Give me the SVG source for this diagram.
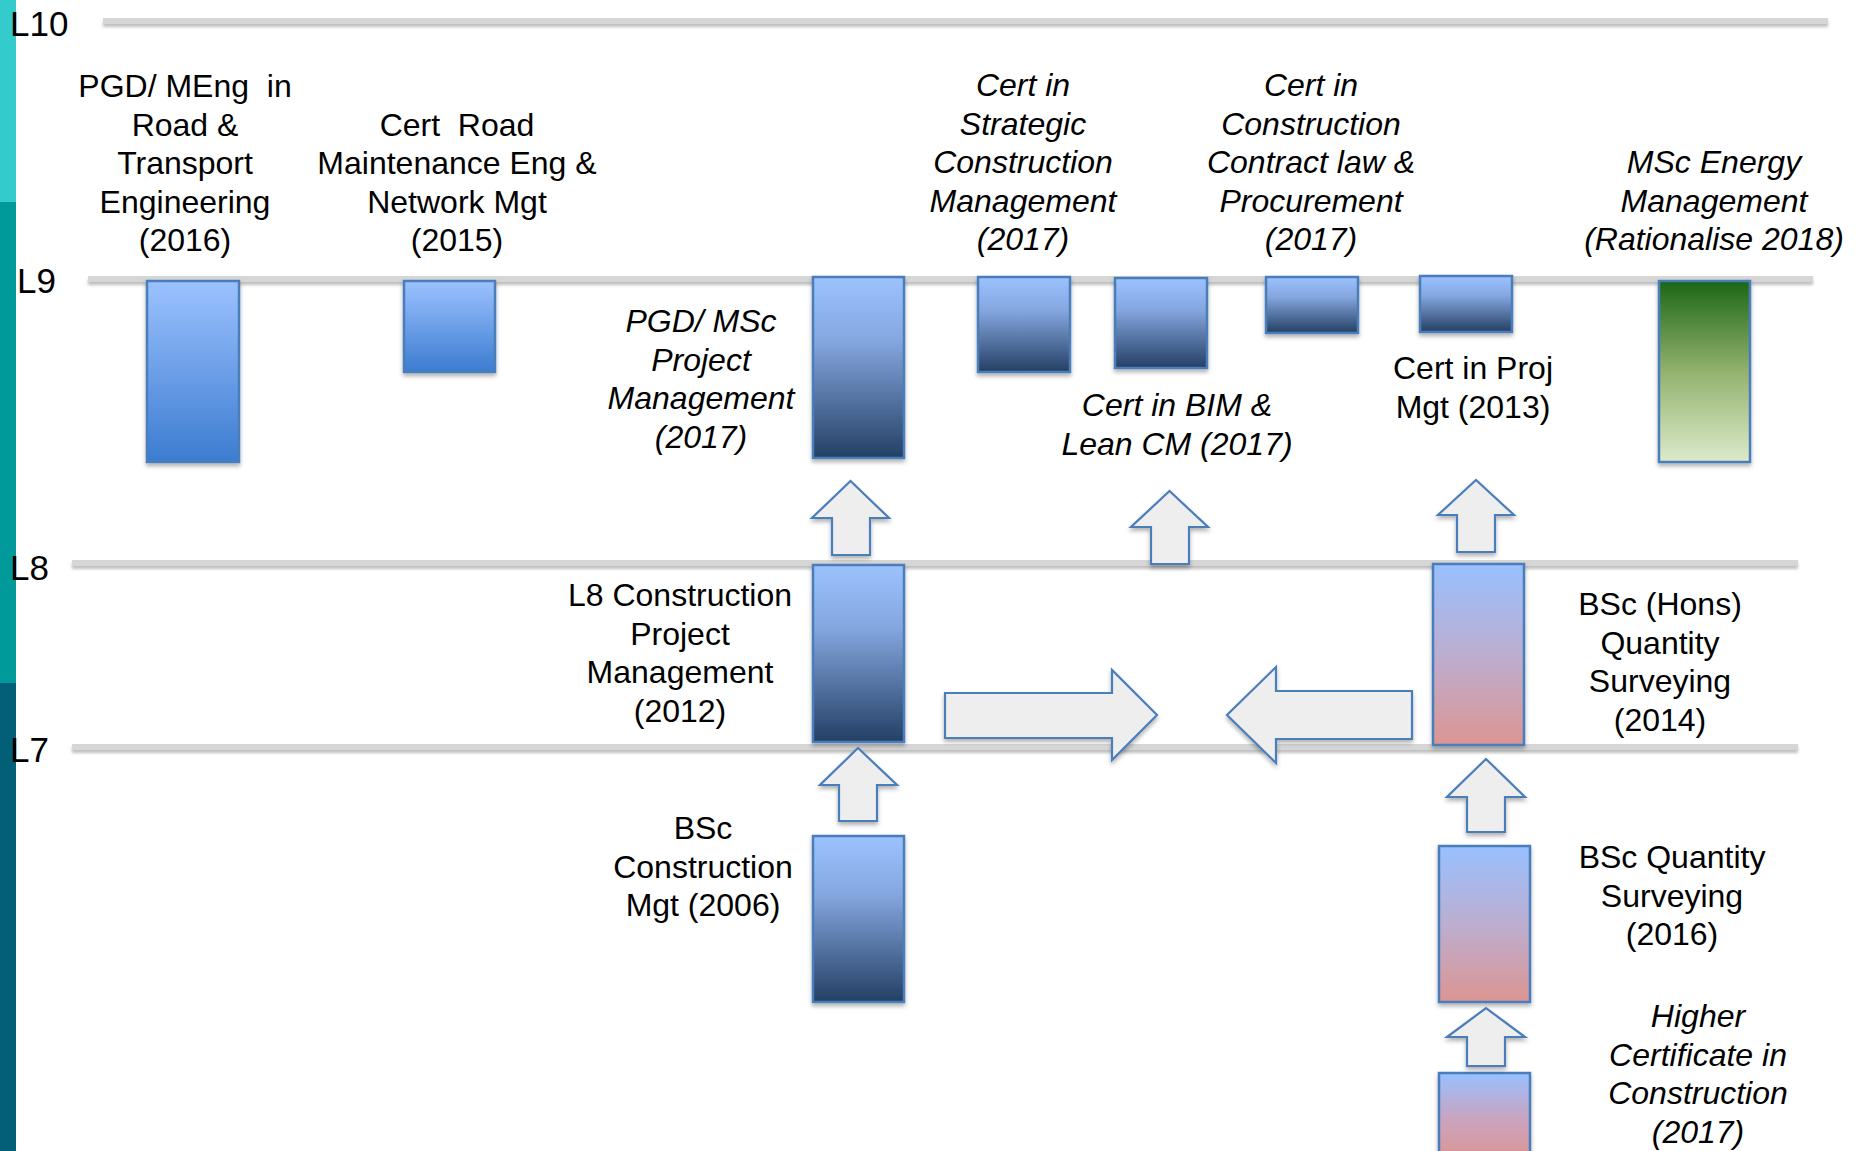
<svg xmlns="http://www.w3.org/2000/svg" width="1860" height="1151" viewBox="0 0 1860 1151">
<style>
.t{font-family:"Liberation Sans",Arial,sans-serif;font-size:32px;fill:#000;text-anchor:middle}
.i{font-style:italic}
.lv{font-family:"Liberation Sans",Arial,sans-serif;font-size:35px;fill:#000}
.lvl{fill:#d6d6d6;filter:url(#shl)}
.bar{stroke:#4a7ebb;stroke-width:2.5;filter:url(#sh)}
.arr{fill:#eeeeee;stroke:#4a7ebb;stroke-width:2.2;stroke-linejoin:miter;filter:url(#sh)}
</style>
<defs>
<filter id="sh" x="-20%" y="-20%" width="140%" height="160%">
<feDropShadow dx="0" dy="3" stdDeviation="2" flood-color="#000" flood-opacity="0.3"/>
</filter>
<filter id="shl" x="-2%" y="-100%" width="104%" height="400%">
<feDropShadow dx="0" dy="3" stdDeviation="1.5" flood-color="#000" flood-opacity="0.25"/>
</filter>
<linearGradient id="gLight" x1="0" y1="0" x2="0" y2="1">
<stop offset="0" stop-color="#9cc2ff"/><stop offset="1" stop-color="#3c7cd0"/>
</linearGradient>
<linearGradient id="gDark" x1="0" y1="0" x2="0" y2="1">
<stop offset="0" stop-color="#9cc2ff"/><stop offset="0.35" stop-color="#85a7e0"/><stop offset="1" stop-color="#243f64"/>
</linearGradient>
<linearGradient id="gPink" x1="0" y1="0" x2="0" y2="1">
<stop offset="0" stop-color="#98c0ff"/><stop offset="0.5" stop-color="#bcaed0"/><stop offset="1" stop-color="#dc9592"/>
</linearGradient>
<linearGradient id="gPink2" x1="0" y1="1073" x2="0" y2="1160" gradientUnits="userSpaceOnUse">
<stop offset="0" stop-color="#98c0ff"/><stop offset="0.55" stop-color="#cba3bd"/><stop offset="1" stop-color="#dc9592"/>
</linearGradient>
<linearGradient id="gGreen" x1="0" y1="0" x2="0" y2="1">
<stop offset="0" stop-color="#1b6616"/><stop offset="0.5" stop-color="#93b26e"/><stop offset="1" stop-color="#dcebcb"/>
</linearGradient>
</defs>

<rect width="1860" height="1151" fill="#ffffff"/>

<g id="sidebar">
<rect x="0" y="0" width="16" height="202" fill="#33cbcb"/>
<rect x="0" y="202" width="16" height="481" fill="#009a9a"/>
<rect x="0" y="683" width="16" height="468" fill="#035e78"/>
</g>

<g id="levels">
<rect class="lvl" x="103" y="18" width="1725" height="6"/>
<rect class="lvl" x="88" y="276" width="1725" height="6"/>
<rect class="lvl" x="72" y="560" width="1726" height="6"/>
<rect class="lvl" x="72" y="744" width="1726" height="6"/>
<text class="lv" x="10" y="36">L10</text>
<text class="lv" x="17" y="293">L9</text>
<text class="lv" x="10" y="580">L8</text>
<text class="lv" x="10" y="762">L7</text>
</g>

<g id="pgd-meng-road">
<rect class="bar" x="147" y="281" width="92" height="181" fill="url(#gLight)"/>
<text class="t" x="185" y="97" xml:space="preserve">PGD/ MEng  in</text>
<text class="t" x="185" y="135.5">Road &amp;</text>
<text class="t" x="185" y="174">Transport</text>
<text class="t" x="185" y="212.5">Engineering</text>
<text class="t" x="185" y="251">(2016)</text>
</g>

<g id="cert-road">
<rect class="bar" x="404" y="281" width="91" height="91" fill="url(#gLight)"/>
<text class="t" x="457" y="135.5" xml:space="preserve">Cert  Road</text>
<text class="t" x="457" y="174">Maintenance Eng &amp;</text>
<text class="t" x="457" y="212.5">Network Mgt</text>
<text class="t" x="457" y="251">(2015)</text>
</g>

<g id="pgd-msc-pm">
<rect class="bar" x="813" y="277" width="91" height="181" fill="url(#gDark)"/>
<text class="t i" x="701" y="332">PGD/ MSc</text>
<text class="t i" x="701" y="370.5">Project</text>
<text class="t i" x="701" y="409">Management</text>
<text class="t i" x="701" y="447.5">(2017)</text>
</g>

<g id="cert-strategic">
<rect class="bar" x="978" y="277" width="92" height="95" fill="url(#gDark)"/>
<text class="t i" x="1023" y="96">Cert in</text>
<text class="t i" x="1023" y="134.5">Strategic</text>
<text class="t i" x="1023" y="173">Construction</text>
<text class="t i" x="1023" y="211.5">Management</text>
<text class="t i" x="1023" y="250">(2017)</text>
</g>

<g id="cert-bim">
<rect class="bar" x="1115" y="278" width="92" height="90" fill="url(#gDark)"/>
<text class="t i" x="1177" y="416">Cert in BIM &amp;</text>
<text class="t i" x="1177" y="454.5">Lean CM (2017)</text>
</g>

<g id="cert-contract">
<rect class="bar" x="1266" y="277" width="92" height="56" fill="url(#gDark)"/>
<text class="t i" x="1311" y="96">Cert in</text>
<text class="t i" x="1311" y="134.5">Construction</text>
<text class="t i" x="1311" y="173">Contract law &amp;</text>
<text class="t i" x="1311" y="211.5">Procurement</text>
<text class="t i" x="1311" y="250">(2017)</text>
</g>

<g id="cert-proj-mgt">
<rect class="bar" x="1420" y="276" width="92" height="56" fill="url(#gDark)"/>
<text class="t" x="1473" y="379">Cert in Proj</text>
<text class="t" x="1473" y="417.5">Mgt (2013)</text>
</g>

<g id="msc-energy">
<rect class="bar" x="1659" y="281" width="91" height="181" fill="url(#gGreen)"/>
<text class="t i" x="1714" y="173">MSc Energy</text>
<text class="t i" x="1714" y="211.5">Management</text>
<text class="t i" x="1714" y="250">(Rationalise 2018)</text>
</g>

<g id="l8-cpm">
<rect class="bar" x="813" y="565" width="91" height="177" fill="url(#gDark)"/>
<text class="t" x="680" y="606">L8 Construction</text>
<text class="t" x="680" y="644.5">Project</text>
<text class="t" x="680" y="683">Management</text>
<text class="t" x="680" y="721.5">(2012)</text>
</g>

<g id="bsc-cm">
<rect class="bar" x="813" y="836" width="91" height="166" fill="url(#gDark)"/>
<text class="t" x="703" y="839">BSc</text>
<text class="t" x="703" y="877.5">Construction</text>
<text class="t" x="703" y="916">Mgt (2006)</text>
</g>

<g id="bsc-hons-qs">
<rect class="bar" x="1433" y="564" width="91" height="181" fill="url(#gPink)"/>
<text class="t" x="1660" y="615">BSc (Hons)</text>
<text class="t" x="1660" y="653.5">Quantity</text>
<text class="t" x="1660" y="692">Surveying</text>
<text class="t" x="1660" y="730.5">(2014)</text>
</g>

<g id="bsc-qs">
<rect class="bar" x="1439" y="846" width="91" height="156" fill="url(#gPink)"/>
<text class="t" x="1672" y="868">BSc Quantity</text>
<text class="t" x="1672" y="906.5">Surveying</text>
<text class="t" x="1672" y="945">(2016)</text>
</g>

<g id="higher-cert">
<rect class="bar" x="1439" y="1073" width="91" height="90" fill="url(#gPink2)"/>
<text class="t i" x="1698" y="1027">Higher</text>
<text class="t i" x="1698" y="1065.5">Certificate in</text>
<text class="t i" x="1698" y="1104">Construction</text>
<text class="t i" x="1698" y="1142.5">(2017)</text>
</g>

<g id="connectors">
<polygon class="arr" points="832,555 870,555 870,518 889,518 850.5,481 812,518 832,518"/>
<polygon class="arr" points="1151,564 1189,564 1189,527 1208,527 1169.5,491 1131,527 1151,527"/>
<polygon class="arr" points="839,821 877,821 877,785 897,785 858,748 820,785 839,785"/>
<polygon class="arr" points="1457,552 1495,552 1495,515 1514,515 1476,480 1438,515 1457,515"/>
<polygon class="arr" points="1467,832 1505,832 1505,797 1525,797 1486,759 1447,797 1467,797"/>
<polygon class="arr" points="1467,1066 1505,1066 1505,1037 1525,1037 1486,1008 1447,1037 1467,1037"/>
<polygon class="arr" points="945,693 1112,693 1112,670 1157,715 1112,760 1112,738 945,738"/>
<polygon class="arr" points="1412,691 1276,691 1276,667 1227,715 1276,763 1276,739 1412,739"/>
</g>
</svg>
